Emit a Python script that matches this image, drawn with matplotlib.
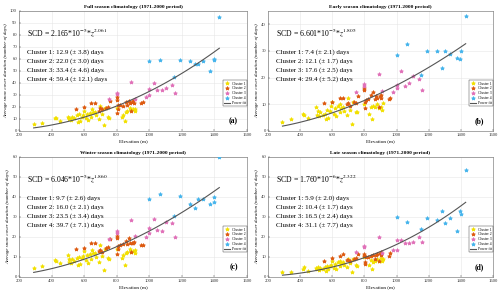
import numpy as np
import matplotlib
matplotlib.use("Agg")
import matplotlib.pyplot as plt

plt.rcParams['font.family'] = ['Liberation Serif', 'DejaVu Serif']
plt.rcParams['mathtext.fontset'] = 'stix'

# station elevations (m) per cluster, same stations in all four panels
elev_c1 = [290, 340, 420, 425, 450, 500, 505, 510, 520, 525, 540, 555, 560, 570, 575,
           585, 595, 600, 610, 615, 625, 635, 645, 650, 655, 665, 675, 690, 700, 710,
           720, 730, 745, 755, 800, 830, 840, 850, 855, 865, 880, 890, 900, 910, 915]
elev_c2 = [550, 600, 645, 665, 690, 700, 710, 735, 745, 760, 800, 800, 802, 805, 810,
           820, 840, 855, 865, 875, 880, 890, 895, 900, 905, 950, 960]
elev_c3 = [750, 800, 800, 890, 910, 980, 1000, 1000, 1030, 1050, 1080, 1100, 1140, 1160]
elev_c4 = [1000, 1065, 1150, 1190, 1250, 1280, 1300, 1330, 1375, 1395, 1400, 1430]

# average snow cover duration (days) per panel and cluster
full_c1 = [6, 7, 10.5, 11, 8.5, 12, 10, 11, 9.5, 12, 10.5, 13, 7.5, 14, 8, 12, 13, 17, 11,
           14, 9.5, 15, 12, 18, 15.5, 16, 13, 10, 21, 14, 5, 19, 12, 11, 19, 12, 13, 8, 16,
           17, 19, 17.5, 18, 16.5, 18]
full_c2 = [18.5, 20, 23, 23.5, 17, 19, 18, 19.5, 20, 25, 28, 26, 15, 18, 22, 22, 21, 24,
           22, 25, 23.5, 17, 24.5, 25, 23, 23, 24.5]
full_c3 = [27, 32, 31, 41, 27, 28, 35, 30, 40, 34, 34, 36, 38, 32]
full_c4 = [58, 59, 45, 59, 58, 56, 56, 58, 50, 59, 60, 95]

early_c1 = [3.5, 4.5, 6.5, 6, 5, 9, 6, 7.5, 5.5, 7, 6, 6.5, 4.5, 8, 5, 7.5, 9.5, 11, 6.5,
            8.5, 5.5, 9.5, 7, 10, 8.5, 9, 7.5, 6, 12.5, 8, 2.5, 11, 7, 7, 10, 6.5, 9, 4.5,
            9.5, 9, 10, 8.5, 9, 8, 10.5]
early_c2 = [10.5, 11, 12.5, 12.3, 10, 10.5, 9.5, 11, 10.5, 13, 16, 15.5, 8.5, 11, 11.5,
            12, 13.5, 14.5, 12, 13, 12.5, 9, 13, 12.5, 13.5, 12, 12.5]
early_c3 = [14.5, 17.5, 16.8, 21.5, 15, 14.5, 17.3, 16, 22.5, 17, 18, 20.5, 19.5, 15.5]
early_c4 = [28.5, 32.5, 21, 30, 30, 23.5, 30, 29, 27.5, 27, 30, 43]

winter_c1 = [4.5, 5.5, 8.5, 8, 7, 11, 7.5, 9, 7, 9, 8, 9.5, 6, 10, 6.5, 9.5, 10.5, 13, 8.5,
             11, 7, 11.5, 9, 13.5, 12, 12, 10, 7.5, 16, 10.5, 3.5, 14, 9.5, 9, 14, 9.5, 11,
             6, 12, 12.5, 14, 12.5, 13, 12, 13.5]
winter_c2 = [14, 14.5, 17, 17, 13, 13.5, 12.5, 14.5, 15, 19, 20.5, 19.5, 11.5, 14, 15.5,
             16, 16.5, 18, 16.5, 19.5, 17, 12.5, 17, 17, 17.5, 16, 16]
winter_c3 = [19, 23, 22, 28.5, 20.5, 20, 24.5, 22, 29, 23.5, 23, 27.5, 27, 20]
winter_c4 = [39, 41.5, 30.5, 40.5, 36.5, 34.5, 39, 39, 36.5, 37.5, 40, 60]

late_c1 = [2.5, 2.5, 4, 5, 3, 4.5, 4, 5, 3.5, 4.5, 4, 5, 3, 5.5, 4, 5.5, 6, 8, 4.5, 6.5, 4,
           7.5, 5.5, 8, 7, 7.5, 6, 5, 9, 7, 2.5, 9, 6, 5.5, 10, 6, 8.5, 4, 7.5, 8, 9, 8,
           9.5, 8, 9]
late_c2 = [8, 9.5, 10.5, 11.5, 8.5, 8.5, 8, 9, 9.5, 11.5, 11.5, 10.5, 6.5, 7.5, 10, 10,
           10.5, 11, 9, 11, 11.5, 8, 12, 12.5, 11, 10.5, 12]
late_c3 = [12.5, 15.5, 15, 20, 12, 13.5, 18.5, 13.5, 18.5, 17, 17, 17.5, 20, 17.5]
late_c4 = [30, 27.5, 24, 29.5, 28.5, 33, 27, 29.5, 23, 33, 31.5, 53.5]

titles = ["Full season climatology (1971-2000 period)",
          "Early season climatology (1971-2000 period)",
          "Winter season climatology (1971-2000 period)",
          "Late season climatology (1971-2000 period)"]
fit_coef = [(2.165e-5, "2.165", "-5", 2.061), (6.601e-5, "6.601", "-5", 1.805),
            (6.046e-5, "6.046", "-5", 1.860), (1.760e-6, "1.760", "-6", 2.322)]
cluster_stats = [["12.9 (\u00b1 3.8)", "22.0 (\u00b1 3.0)", "33.4 (\u00b1 4.6)", "59.4 (\u00b1 12.1)"],
                 ["7.4 (\u00b1 2.1)", "12.1 (\u00b1 1.7)", "17.6 (\u00b1 2.5)", "29.4 (\u00b1 5.2)"],
                 ["9.7 (\u00b1 2.6)", "16.0 (\u00b1 2.1)", "23.5 (\u00b1 3.4)", "39.7 (\u00b1 7.1)"],
                 ["5.9 (\u00b1 2.0)", "10.4 (\u00b1 1.7)", "16.5 (\u00b1 2.4)", "31.1 (\u00b1 7.7)"]]
ylims = [(0, 100, 10), (0, 45, 10), (0, 60, 10), (0, 60, 10)]
panel_tags = ["(a)", "(b)", "(c)", "(d)"]
panel_data = [(full_c1, full_c2, full_c3, full_c4),
              (early_c1, early_c2, early_c3, early_c4),
              (winter_c1, winter_c2, winter_c3, winter_c4),
              (late_c1, late_c2, late_c3, late_c4)]

elevs = [elev_c1, elev_c2, elev_c3, elev_c4]
colors = ["#f2e000", "#dd5a10", "#e070b8", "#45b4ec"]

fig = plt.figure(figsize=(5.0, 2.93), dpi=100)
W, H = 500, 293
boxes = [(19, 11, 228), (268, 11, 225), (19, 157, 228), (268, 157, 225)]

for k in range(4):
    x0, y0, w = boxes[k]
    ax = fig.add_axes([x0 / W, 1 - (y0 + 120) / H, w / W, 120 / H])
    for c in range(4):
        ax.plot(elevs[c], panel_data[k][c], '*', color=colors[c], ms=2.8, mew=0.6,
                label="Cluster %d" % (c + 1), zorder=3)
    a, a_txt, a_exp, b = fit_coef[k]
    z = np.linspace(290, 1430, 100)
    ax.plot(z, a * z ** b, color="#555555", lw=0.8, label="Power fit", zorder=4)

    lo, hi, st = ylims[k]
    ax.set_xlim(200, 1600)
    ax.set_ylim(lo, hi)
    ax.set_xticks(range(200, 1601, 200))
    ax.set_yticks(range(lo, hi + 1, st))
    ax.tick_params(labelsize=3.4, direction='in', length=1.5, width=0.3, pad=1.5,
                   colors="#333333")
    ax.grid(True, color="#e6e6e6", lw=0.4)
    ax.set_axisbelow(True)
    for s in ax.spines.values():
        s.set_linewidth(0.4)
        s.set_color("#666666")

    ax.set_title(titles[k], fontsize=3.9, fontweight='bold', pad=2.5)
    ax.set_xlabel("Elevation (m)", fontsize=3.7, labelpad=1.5)
    ax.set_ylabel("Average snow cover duration (number of days)", fontsize=3.6,
                  labelpad=1.5, style='italic')

    ax.text(0.035, 0.815, r"SCD = %s*10$^{%s}$*$z^{%.3f}$" % (a_txt, a_exp, b),
            transform=ax.transAxes, fontsize=5.6, va='center', ha='left')
    for c in range(4):
        ax.text(0.035, 0.658 - c * 0.075, "Cluster %d: %s days" % (c + 1, cluster_stats[k][c]),
                transform=ax.transAxes, fontsize=5.0, va='center', ha='left')

    leg = ax.legend(loc='lower right', bbox_to_anchor=(0.998, 0.205), borderaxespad=0,
                    fontsize=2.7, handlelength=1.6, handletextpad=0.5, labelspacing=0.25,
                    borderpad=0.3, fancybox=False, framealpha=1)
    leg.get_frame().set_linewidth(0.3)
    leg.get_frame().set_edgecolor("#333333")

    ax.text(0.96, 0.045, panel_tags[k], transform=ax.transAxes, fontsize=5.5,
            fontweight='bold', ha='right', va='bottom')

fig.savefig("out.png", dpi=100)
